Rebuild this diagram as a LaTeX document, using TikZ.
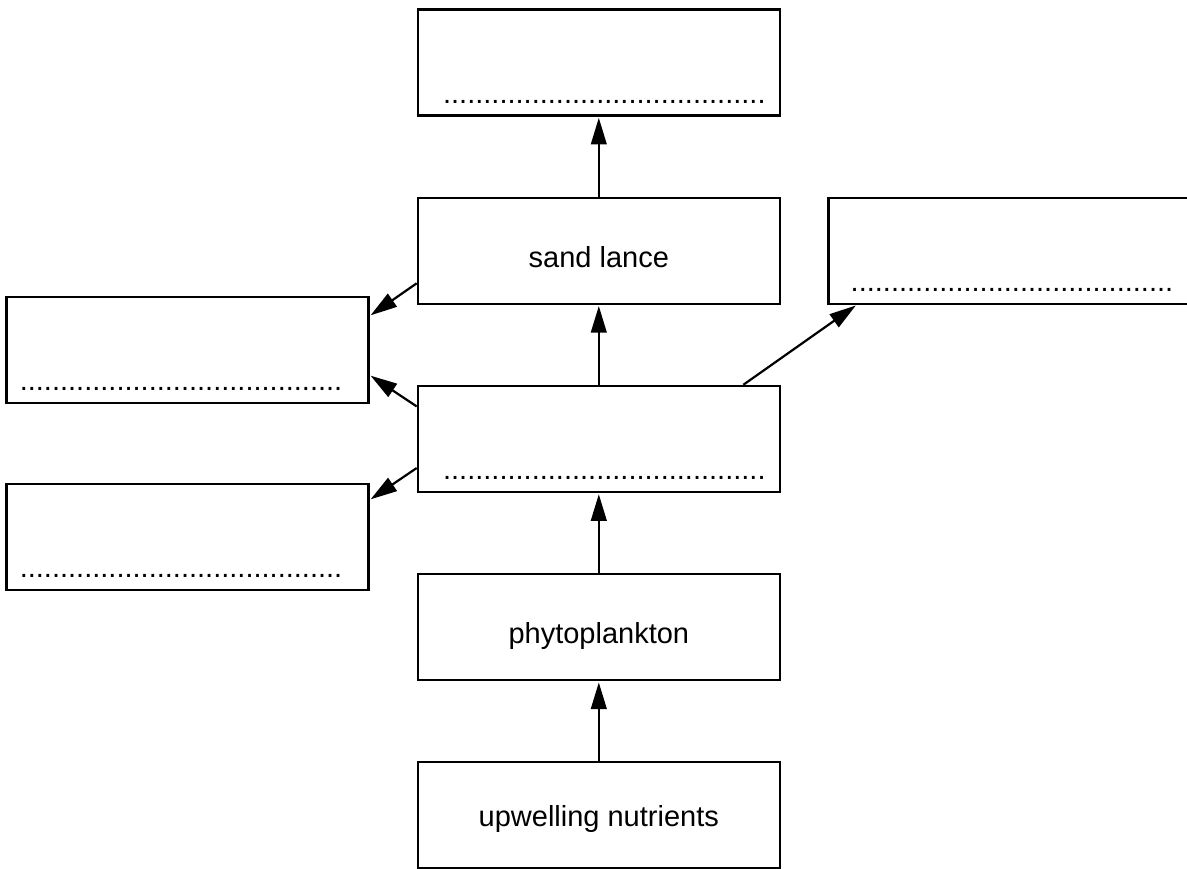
\documentclass[tikz,border=0pt]{standalone}
\usepackage{fontspec}
\setmainfont{Liberation Sans}
\usetikzlibrary{positioning,arrows.meta}
\newcommand{\answerdots}{........................................}

\begin{document}
\begin{tikzpicture}[x=0.5pt, y=-0.5pt, font=\fontsize{14.5}{17}\selectfont,
  box/.style={draw, line width=1.1pt, minimum width=181pt, minimum height=53pt, inner sep=0pt,
    text height=16.8pt, text depth=0pt},
  blank/.style={anchor=base west, inner sep=0pt},
  arr/.style={-{Triangle[length=13.3pt,width=7.8pt]}, line width=1.1pt, shorten >=0.6pt}]
\useasboundingbox (0,0) rectangle (1187,868);
% food chain column
\node[box, text height=10.7pt] (nutrients) at (598.8,815.3) {upwelling nutrients};
\node[box, above=40pt of nutrients] (phyto) {phytoplankton};
\node[box, above=40pt of phyto] (mid) {};
\node[box, above=40pt of mid] (sandlance) {sand lance};
\node[box, above=40pt of sandlance] (top) {};
% side boxes
\node[box, right=23.2pt of sandlance] (right) {};
\node[box] (upleft) at (187.5,350) {};
\node[box] (lowleft) at (187.5,537) {};
% answer lines
\node[blank] (topdots) at ([shift={(13pt,6.8pt)}]top.south west) {\answerdots};
\node[blank] (middots) at ([shift={(13pt,6.8pt)}]mid.south west) {\answerdots};
\node[blank] (rightdots) at ([shift={(11.5pt,6.8pt)}]right.south west) {\answerdots};
\node[blank] (upleftdots) at ([shift={(7pt,6.8pt)}]upleft.south west) {\answerdots};
\node[blank] (lowleftdots) at ([shift={(7pt,6.8pt)}]lowleft.south west) {\answerdots};
% arrows
\draw[arr] (nutrients) -- (phyto);
\draw[arr] (phyto) -- (mid);
\draw[arr] (mid) -- (sandlance);
\draw[arr] (sandlance) -- (top);
\draw[arr] ([yshift=-16.3pt]sandlance.west) -- ([yshift=17pt]upleft.east);
\draw[arr] ([yshift=16.25pt]mid.west) -- ([yshift=-12.5pt]upleft.east);
\draw[arr] ([yshift=-14.55pt]mid.west) -- ([yshift=18.5pt]lowleft.east);
\draw[arr] ([xshift=72.25pt]mid.north) -- ([xshift=-76.3pt]right.south);
\end{tikzpicture}
\end{document}
